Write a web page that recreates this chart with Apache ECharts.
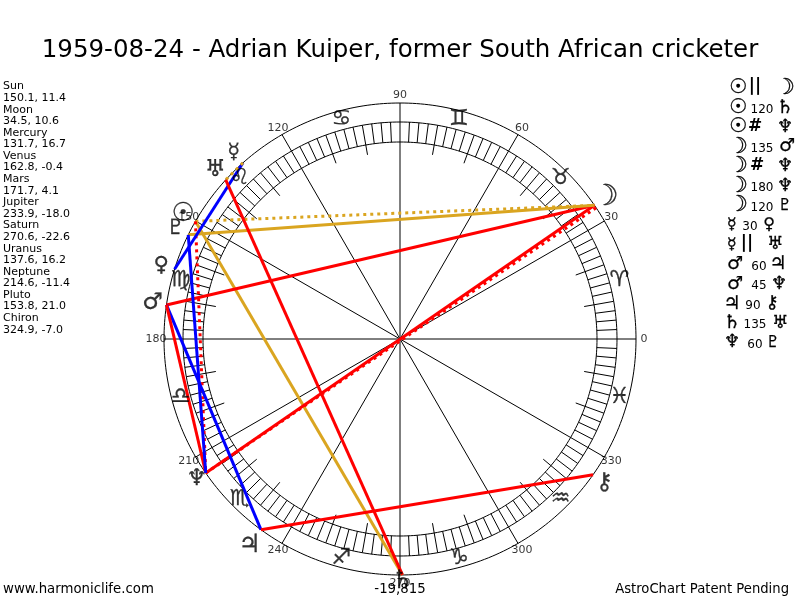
<!DOCTYPE html>
<html><head><meta charset="utf-8">
<style>html,body{margin:0;padding:0;background:#fff}#c{width:800px;height:600px}</style>
<script src="https://cdn.jsdelivr.net/npm/echarts@6/dist/echarts.min.js"></script>
</head><body><div id="c"></div>
<script>
var titleText = '1959-08-24 - Adrian Kuiper, former South African cricketer';
var footerLeft = 'www.harmoniclife.com', footerMid = '-19,815', footerRight = 'AstroChart Patent Pending';
var planetNames = ['Sun','Moon','Mercury','Venus','Mars','Jupiter','Saturn','Uranus','Neptune','Pluto','Chiron'];
var planetLongitudes = [150.1,34.5,131.7,162.8,171.7,233.9,270.6,137.6,214.6,153.8,324.9];
var planetDeclinations = [11.4,10.6,16.7,-0.4,4.1,-18.0,-22.6,16.2,-11.4,21.0,-7.0];
var planetGlyphs = ['☉','☽','☿','♀','♂','♃','♄','♅','♆','♇','⚷'];
var signGlyphs = ['♈','♉','♊','♋','♌','♍','♎','♏','♐','♑','♒','♓'];
var signMidpoints = [15,45,75,105,135,165,195,225,255,285,315,345];
var degreeMarks = [0,30,60,90,120,150,180,210,240,270,300,330];
var aspectFrom = [0,0,0,1,1,1,1,2,2,4,4,5,6,8];
var aspectLabels = ['||','120','#','135','#','180','120','30','||','60','45','90','135','60'];
var aspectTo = [1,6,8,4,8,8,9,3,7,5,8,10,7,9];
var aspectColors = ['gold','gold','red','red','red','red','gold','blue','gold','blue','red','red','red','blue'];
var aspectDotted = [true,false,true,false,true,false,false,false,true,false,false,false,false,false];

/* layout */
var R_OUT=236, R_RING_OUT=217, R_RING_IN=197, R_TICK10=187, R_SIGN=227, R_DEG=244, R_GLYPH=250, R_MAX=290;
var CX=400, CY=339;
var COLORS={gold:'#DAA520',red:'#FF0000',blue:'#0000FF'};
var glyphRadiusOverride={5:255,6:243,8:247};
var glyphScale=[1.25,1.4,1,1,1.1,1.2,1.2,1.1,1.1,1,1.1];
var dottedNudge={4:[-0.7,0]};
var rowX=[[738,755,785],[738,762,785],[738,755,785],[738,762,787],[738,757,785],[738,762,785],[738,762,785],
 [732,750,769],[732,747,775],[735,759,778],[735,759,779],[732,753,772],[732,755,780],[732,755,773]];

function circle(r){var d=[];for(var a=0;a<=360;a+=1)d.push([r,a]);return d;}
function segs(step,r0,r1,skip){var d=[];for(var a=0;a<360;a+=step){if(skip&&a%skip===0)continue;d.push([r0,a],[r1,a],['-','-']);}return d;}
var thin={type:'line',coordinateSystem:'polar',symbol:'none',silent:true,animation:false,connectNulls:false,lineStyle:{color:'#000',width:1},z:1};
function thinS(d){return Object.assign({},thin,{data:d});}

var series=[thinS(circle(R_OUT)),thinS(circle(R_RING_OUT)),thinS(circle(R_RING_IN)),
 thinS(segs(30,0,R_OUT)),thinS(segs(10,R_TICK10,R_RING_OUT,30)),thinS(segs(2.5,R_RING_IN,R_RING_OUT,10))];

aspectFrom.forEach(function(f,i){
 var t=aspectTo[i], n=dottedNudge[i]||[0,0];
 series.push({type:'line',coordinateSystem:'polar',symbol:'none',silent:true,animation:false,z:2+i*0.01,
  lineStyle:{color:COLORS[aspectColors[i]],width:3,type:aspectDotted[i]?[3,4]:'solid',cap:'butt'},
  data:[[R_OUT,planetLongitudes[f]+n[0]],[R_OUT,planetLongitudes[t]+n[1]]]});
});
function textSeries(items,size,bold){
 return {type:'scatter',coordinateSystem:'polar',symbolSize:1,itemStyle:{color:'rgba(0,0,0,0)'},silent:true,animation:false,z:5,
  label:{show:true,position:'inside',formatter:'{b}',color:'#000',fontFamily:'DejaVu Sans',fontSize:size,textBorderColor:'#000',textBorderWidth:bold||0},
  labelLayout:{hideOverlap:false},data:items};
}
series.push(textSeries(signGlyphs.map(function(g,i){return {name:g,value:[R_SIGN,signMidpoints[i]]};}),22,0.3));
series.push(textSeries(degreeMarks.map(function(a){return {name:String(a),value:[R_DEG,a]};}),11,0));
series.push(textSeries(planetGlyphs.map(function(g,i){return {name:g,value:[glyphRadiusOverride[i]||R_GLYPH,planetLongitudes[i]],
  label:{fontSize:Math.round(21*glyphScale[i])}};}),21,0.3));

var graphic=[];
function txt(x,y,s,size,align,weight,stroke){graphic.push({type:'text',x:x,y:y,silent:true,z:10,style:{text:s,fill:'#000',stroke:stroke?'#000':null,lineWidth:stroke||0,font:(weight||'normal')+' '+size+'px "DejaVu Sans"',textAlign:align||'left',textVerticalAlign:'middle'}});}
planetNames.forEach(function(n,i){
 txt(3,86.5+i*23.17,n,11);
 txt(3,98+i*23.17,planetLongitudes[i].toFixed(1)+', '+planetDeclinations[i].toFixed(1),11);
});
aspectFrom.forEach(function(f,i){
 var y=88+i*19.6,x=rowX[i],lab=aspectLabels[i],sym=(lab==='||'||lab==='#');
 txt(x[0],y,planetGlyphs[f],Math.round(16*glyphScale[f]),'center','normal',0.3);
 txt(x[1],y+(sym?-1:2),lab,sym?17:12,'center',sym?'bold':'normal');
 txt(x[2],y,planetGlyphs[aspectTo[i]],Math.round(16*glyphScale[aspectTo[i]]),'center','normal',0.3);
});
txt(3,590,footerLeft,13.3);
txt(400,590,footerMid,13.3,'center');
txt(789,590,footerRight,13.2,'right');

var chart=echarts.init(document.getElementById('c'),null,{renderer:'canvas'});
chart.setOption({
 animation:false,backgroundColor:'#fff',
 title:{text:titleText,left:'center',top:33,textStyle:{fontFamily:'DejaVu Sans',fontSize:24.5,fontWeight:'normal',color:'#000'}},
 polar:{center:[CX,CY],radius:R_MAX},
 angleAxis:{type:'value',min:0,max:360,startAngle:0,clockwise:false,axisLine:{show:false},axisTick:{show:false},axisLabel:{show:false},splitLine:{show:false}},
 radiusAxis:{type:'value',min:0,max:R_MAX,axisLine:{show:false},axisTick:{show:false},axisLabel:{show:false},splitLine:{show:false}},
 series:series,graphic:graphic
});
</script></body></html>
